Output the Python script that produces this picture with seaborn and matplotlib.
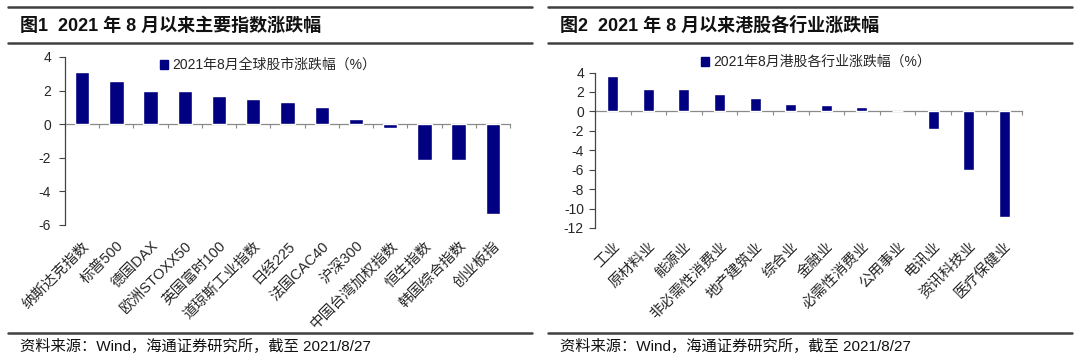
import matplotlib
matplotlib.use('Agg')
import matplotlib.pyplot as plt
from matplotlib.lines import Line2D
from matplotlib.patches import Patch
import seaborn as sns
import numpy as np
import pandas as pd

# ---------------- data ----------------
left_categories = ["纳斯达克指数", "标普500", "德国DAX", "欧洲STOXX50", "英国富时100",
                   "道琼斯工业指数", "日经225", "法国CAC40", "沪深300", "中国台湾加权指数",
                   "恒生指数", "韩国综合指数", "创业板指"]
left_values = [3.1, 2.6, 1.97, 1.96, 1.65, 1.48, 1.32, 1.05, 0.33, -0.22, -2.12, -2.12, -5.33]
left_yticks = [-6, -4, -2, 0, 2, 4]
left_legend = "2021年8月全球股市涨跌幅（%）"
left_title = "图1  2021 年 8 月以来主要指数涨跌幅"

right_categories = ["工业", "原材料业", "能源业", "非必需性消费业", "地产建筑业", "综合业",
                    "金融业", "必需性消费业", "公用事业", "电讯业", "资讯科技业", "医疗保健业"]
right_values = [3.62, 2.35, 2.35, 1.74, 1.33, 0.75, 0.66, 0.5, 0.03, -1.8, -6.0, -10.88]
right_yticks = [-12, -10, -8, -6, -4, -2, 0, 2, 4]
right_legend = "2021年8月港股各行业涨跌幅（%）"
right_title = "图2  2021 年 8 月以来港股各行业涨跌幅"

footer = "资料来源：Wind，海通证券研究所，截至 2021/8/27"

NAVY = "#000080"
AXIS_GRAY = "#8a8a8a"
RULE = "#404040"

sns.set_style("white")
plt.rcParams['font.family'] = ['Liberation Sans', 'Noto Sans CJK SC', 'DejaVu Sans']

W, H = 1080, 359
fig = plt.figure(figsize=(W / 100, H / 100), dpi=100)


def fx(px):
    return px / W


def fy(py):
    return 1 - py / H


def draw(ax, cats, vals, yticks, width, legend_label, legend_px, label_pad, ypad):
    df = pd.DataFrame({"cat": cats, "val": vals})
    sns.barplot(data=df, x="cat", y="val", color=NAVY, saturation=1, width=width, ax=ax)
    ax.set_xlim(-0.5, len(cats) - 0.5)
    ax.set_ylim(yticks[0], yticks[-1])
    ax.set_yticks(yticks)
    ax.set_yticklabels([str(t) for t in yticks])
    for s in ["top", "right", "bottom"]:
        ax.spines[s].set_visible(False)
    ax.spines["left"].set_color("#444444")
    ax.spines["left"].set_linewidth(0.9)
    ax.tick_params(axis="y", direction="out", length=4, width=0.8, color="#444444",
                   labelsize=10, pad=ypad, left=True)
    ax.tick_params(axis="x", length=0, labelsize=10.5, pad=label_pad)
    ax.set_xticks(range(len(cats)))
    ax.set_xticklabels(cats, rotation=45, ha="right", rotation_mode="anchor")
    ax.set_xlabel("")
    ax.set_ylabel("")
    ax.patch.set_alpha(0)
    # category axis crossing at zero, with ticks between categories
    zero_frac = (0 - yticks[0]) / (yticks[-1] - yticks[0])
    sec = ax.secondary_xaxis(zero_frac)
    try:
        sec.set_alignment("bottom")
    except Exception:
        pass
    sec.set_xticks(np.arange(len(cats) + 1) - 0.5)
    sec.set_xticklabels([])
    sec.tick_params(axis="x", direction="out", length=3, width=0.8, color=AXIS_GRAY)
    for s in sec.spines.values():
        s.set_color(AXIS_GRAY)
        s.set_linewidth(0.9)
    handle = Patch(facecolor=NAVY, edgecolor=NAVY)
    fig.legend([handle], [legend_label], loc="center left",
               bbox_to_anchor=(fx(legend_px[0]), fy(legend_px[1])),
               frameon=False, fontsize=10, handlelength=0.6, handleheight=0.6,
               handletextpad=0.25, borderpad=0, borderaxespad=0)


# left axes: x 65..510 px, y 57..225 px
ax1 = fig.add_axes([fx(65), fy(225), fx(510 - 65), (225 - 57) / H])
draw(ax1, left_categories, left_values, left_yticks, 0.42, left_legend, (160, 65), 10, 6)

# right axes: x 595..1022 px, y 72.5..228 px
ax2 = fig.add_axes([fx(595), fy(228), fx(1022 - 595), (228 - 72.5) / H])
draw(ax2, right_categories, right_values, right_yticks, 0.31, right_legend, (701, 62), 8, 4)

# header / footer rules and texts
for x0, x1, title in [(8, 532, left_title), (548, 1072, right_title)]:
    for yy in (7, 43):
        fig.add_artist(Line2D([fx(x0), fx(x1)], [fy(yy), fy(yy)], color=RULE, lw=1.8))
    fig.add_artist(Line2D([fx(x0), fx(x1)], [fy(333), fy(333)], color=RULE, lw=1.8))
    fig.text(fx(x0 + 12), fy(26), title, fontsize=13, fontweight="bold",
             va="center", ha="left", color="#111111")
    fig.text(fx(x0 + 12), fy(346), footer, fontsize=11, va="center", ha="left",
             color="#111111")

fig.savefig("out.png", dpi=100)
